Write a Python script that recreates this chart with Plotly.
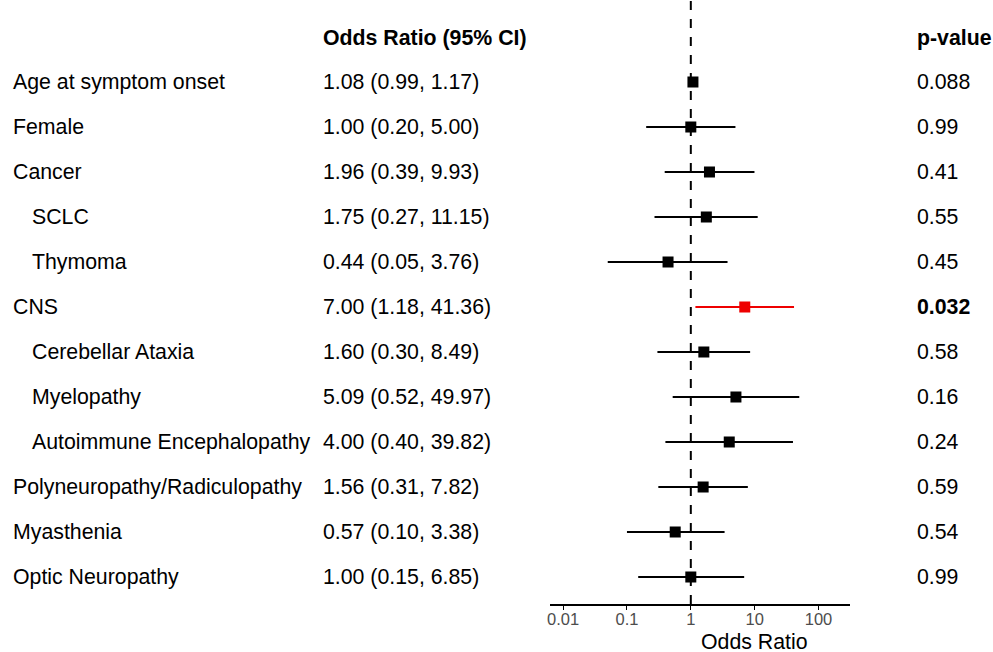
import plotly.graph_objects as go

labels = ["Age at symptom onset", "Female", "Cancer", "SCLC", "Thymoma", "CNS",
          "Cerebellar Ataxia", "Myelopathy", "Autoimmune Encephalopathy",
          "Polyneuropathy/Radiculopathy", "Myasthenia", "Optic Neuropathy"]
indent = [0, 0, 0, 1, 1, 0, 1, 1, 1, 0, 0, 0]
odds = [1.08, 1.00, 1.96, 1.75, 0.44, 7.00, 1.60, 5.09, 4.00, 1.56, 0.57, 1.00]
lower = [0.99, 0.20, 0.39, 0.27, 0.05, 1.18, 0.30, 0.52, 0.40, 0.31, 0.10, 0.15]
upper = [1.17, 5.00, 9.93, 11.15, 3.76, 41.36, 8.49, 49.97, 39.82, 7.82, 3.38, 6.85]
pvals = ["0.088", "0.99", "0.41", "0.55", "0.45", "0.032", "0.58", "0.16", "0.24", "0.59", "0.54", "0.99"]
signif = [False, False, False, False, False, True, False, False, False, False, False, False]
tick_vals = [0.01, 0.1, 1, 10, 100]
tick_text = ["0.01", "0.1", "1", "10", "100"]

W, H = 993, 652
FONT = "Liberation Sans, Arial, sans-serif"
FS = 21.3


def px(x):
    return x / W


AX_BOTTOM = 604       # axis line, px from top
ROW0 = 82             # first row, px from top
STEP = 45.0


def yrow(pix):
    return (pix - ROW0) / STEP


rows = list(range(len(labels)))
colors = ["#ee0000" if s else "black" for s in signif]

fig = go.Figure()
for i in rows:
    fig.add_trace(go.Scatter(
        x=[odds[i]], y=[i], mode="markers",
        marker=dict(symbol="square", size=11, color=colors[i]),
        error_x=dict(type="data", symmetric=False,
                     array=[upper[i] - odds[i]], arrayminus=[odds[i] - lower[i]],
                     color=colors[i], thickness=1.8, width=0),
        showlegend=False, hoverinfo="skip"))

fig.add_shape(type="line", xref="x", yref="y domain", x0=1, x1=1, y0=0, y1=1,
              line=dict(color="black", width=2, dash="dash"))

ann = []
TX = 3  # annotation padding compensation
for i in rows:
    ann.append(dict(x=px(11 - TX + 19 * indent[i]), xref="paper", y=i, yref="y",
                    text=labels[i], showarrow=False, xanchor="left", yanchor="middle",
                    font=dict(size=FS, color="black", family=FONT)))
    ann.append(dict(x=px(322 - TX), xref="paper", y=i, yref="y",
                    text=f"{odds[i]:.2f} ({lower[i]:.2f}, {upper[i]:.2f})",
                    showarrow=False, xanchor="left", yanchor="middle",
                    font=dict(size=FS, color="black", family=FONT)))
    ann.append(dict(x=px(918 - TX), xref="paper", y=i, yref="y",
                    text=(f"<b>{pvals[i]}</b>" if signif[i] else pvals[i]),
                    showarrow=False, xanchor="left", yanchor="middle",
                    font=dict(size=FS, color="black", family=FONT)))
hy = yrow(38)
ann.append(dict(x=px(322 - TX), xref="paper", y=hy, yref="y", text="<b>Odds Ratio (95% CI)</b>",
                showarrow=False, xanchor="left", yanchor="middle",
                font=dict(size=FS, color="black", family=FONT)))
ann.append(dict(x=px(918 - TX), xref="paper", y=hy, yref="y", text="<b>p-value</b>",
                showarrow=False, xanchor="left", yanchor="middle",
                font=dict(size=FS, color="black", family=FONT)))
ann.append(dict(x=1, xref="x", y=-(642 - AX_BOTTOM) / AX_BOTTOM, yref="paper", text="Odds Ratio",
                showarrow=False, xanchor="center", yanchor="middle",
                font=dict(size=FS, color="black", family=FONT)))

fig.update_layout(
    width=W, height=H, paper_bgcolor="white", plot_bgcolor="white",
    margin=dict(l=0, r=0, t=0, b=H - AX_BOTTOM),
    annotations=ann,
    xaxis=dict(type="log", range=[-2.2, 2.5], domain=[px(549), px(850)],
               tickvals=tick_vals, ticktext=tick_text, showgrid=False, zeroline=False,
               showline=True, linecolor="black", linewidth=1.5,
               ticks="outside", ticklen=4, tickwidth=1.2, tickcolor="black",
               ticklabelstandoff=-5,
               tickfont=dict(size=16.5, color="#4d4d4d", family=FONT)),
    yaxis=dict(range=[(AX_BOTTOM - ROW0) / STEP, -ROW0 / STEP], visible=False,
               showgrid=False, zeroline=False),
)
fig.write_html("out.html", config={"displayModeBar": False},
               post_script="document.body.style.margin='0';document.body.style.overflow='hidden';")
